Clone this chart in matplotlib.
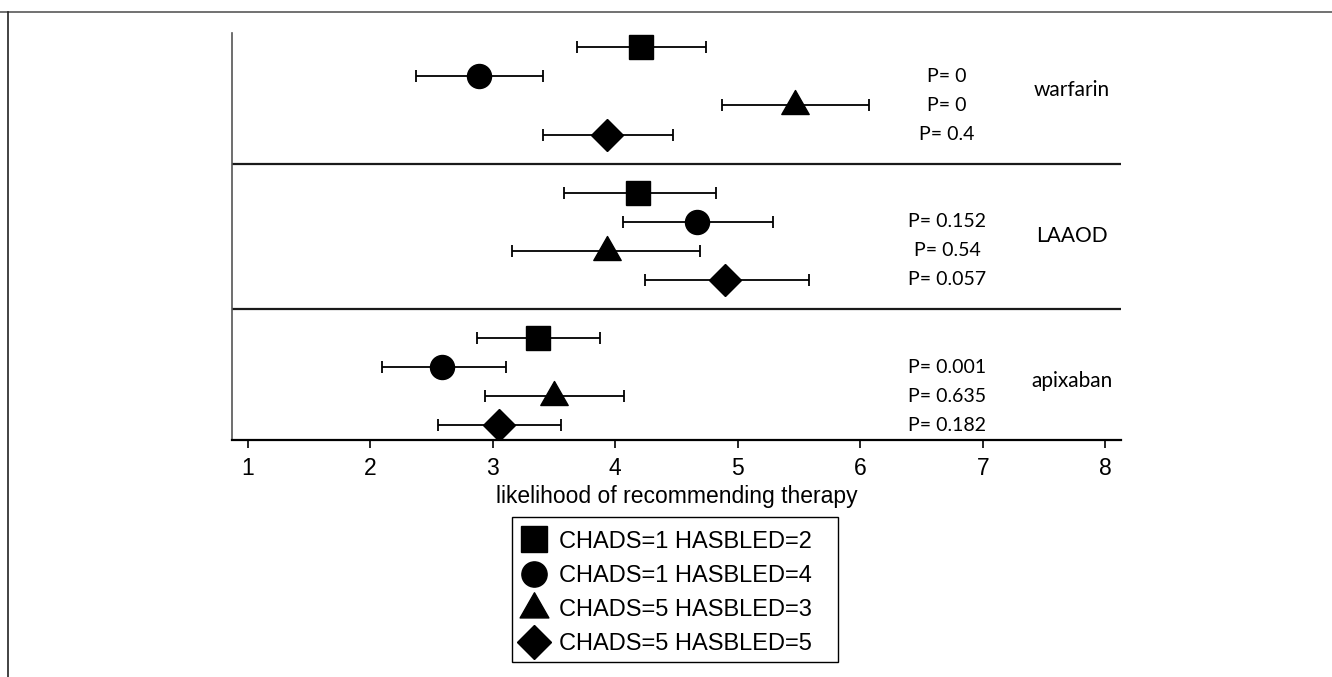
import matplotlib
matplotlib.use("Agg")
import matplotlib.pyplot as plt
from matplotlib.lines import Line2D
from matplotlib.patches import Rectangle
from matplotlib.path import Path

# treatments (top to bottom) and patient profiles
drugs = ["warfarin", "LAAOD", "apixaban"]
profiles = ["CHADS=1 HASBLED=2", "CHADS=1 HASBLED=4",
            "CHADS=5 HASBLED=3", "CHADS=5 HASBLED=5"]

# mean likelihood and confidence limits, one list per drug
warfarin_mean = [4.21, 2.89, 5.47, 3.93]
warfarin_lo = [3.69, 2.37, 4.87, 3.41]
warfarin_hi = [4.74, 3.41, 6.07, 4.47]

laaod_mean = [4.19, 4.67, 3.93, 4.90]
laaod_lo = [3.58, 4.06, 3.16, 4.24]
laaod_hi = [4.82, 5.29, 4.69, 5.58]

apixaban_mean = [3.37, 2.59, 3.50, 3.05]
apixaban_lo = [2.87, 2.10, 2.94, 2.55]
apixaban_hi = [3.88, 3.11, 4.07, 3.56]

p_warfarin = ["P= 0", "P= 0", "P= 0.4"]
p_laaod = ["P= 0.152", "P= 0.54", "P= 0.057"]
p_apixaban = ["P= 0.001", "P= 0.635", "P= 0.182"]

x_ticks = [1, 2, 3, 4, 5, 6, 7, 8]

means = [warfarin_mean, laaod_mean, apixaban_mean]
lows = [warfarin_lo, laaod_lo, apixaban_lo]
highs = [warfarin_hi, laaod_hi, apixaban_hi]
pvals = [p_warfarin, p_laaod, p_apixaban]

# triangle with its centre near the centroid, like the original
tri = Path([(0, 15), (-13.7, -9), (13.7, -9), (0, 15)],
           [Path.MOVETO, Path.LINETO, Path.LINETO, Path.CLOSEPOLY])
markers = ["s", "o", tri, "D"]
sizes = [17.3, 17.3, 21.6, 16.3]

W, H = 1332, 677
fig = plt.figure(figsize=(W / 100, H / 100), dpi=100)
ax = fig.add_axes([232 / W, 237 / H, 889 / W, 407.3 / H])

for g in range(len(drugs)):
    for i in range(len(profiles)):
        row = 5 * g + i
        m = means[g][i]
        ax.errorbar(m, row, xerr=[[m - lows[g][i]], [highs[g][i] - m]],
                    fmt="none", ecolor="black", elinewidth=1.3,
                    capsize=4, capthick=1.3, zorder=2)
        ax.plot(m, row, marker=markers[i], markersize=sizes[i],
                color="black", linestyle="none", zorder=3)
    # p values next to the 2nd, 3rd and 4th profile
    for k, txt in enumerate(pvals[g]):
        ax.text(6.71, 5 * g + k + 1, txt, ha="center", va="center",
                fontsize=14, family="Lato")
    ax.text(7.73, 5 * g + 1.48, drugs[g], ha="center", va="center",
            fontsize=15, family="Lato")

# separators between drugs
for g in range(1, len(drugs)):
    ax.axhline(5 * g - 1, color="#1a1a1a", linewidth=1.6, zorder=1)

ax.set_xlim(0.872, 8.129)
ax.set_ylim(13.5, -0.5)
ax.set_xticks(x_ticks)
ax.set_xticklabels([str(t) for t in x_ticks], fontsize=16.5,
                   family="Liberation Sans")
ax.set_yticks([])
ax.tick_params(axis="x", length=6, width=1.2, pad=6, color="black")
ax.spines["top"].set_visible(False)
ax.spines["right"].set_visible(False)
ax.spines["left"].set_color("#555555")
ax.spines["left"].set_linewidth(1.2)
ax.spines["bottom"].set_linewidth(1.6)
ax.set_xlabel("likelihood of recommending therapy", fontsize=16.5,
              family="Liberation Sans", labelpad=4)

handles = [Line2D([], [], marker=markers[i], markersize=sizes[i] * 1.05,
                  color="black", linestyle="none") for i in range(4)]
leg = fig.legend(handles, profiles, loc="upper left",
                 bbox_to_anchor=(512 / W, 1 - 520 / H),
                 borderaxespad=0, frameon=False,
                 prop={"family": "Liberation Sans", "size": 17},
                 handlelength=1.0, handletextpad=0.56, labelspacing=0.52,
                 borderpad=0.45)

# legend box is wider on the right than matplotlib's symmetric padding
fig.add_artist(Rectangle((512 / W, 15 / H), 326 / W, 145 / H,
                         transform=fig.transFigure, fill=False,
                         edgecolor="black", linewidth=1.0))

# partial border of the original image
fig.add_artist(Line2D([0, 1], [1 - 12 / H, 1 - 12 / H],
                      transform=fig.transFigure, color="#666666", lw=1.3))
fig.add_artist(Line2D([8 / W, 8 / W], [0, 1 - 12 / H],
                      transform=fig.transFigure, color="#222222", lw=1.2))

fig.savefig("out.png", dpi=100)
